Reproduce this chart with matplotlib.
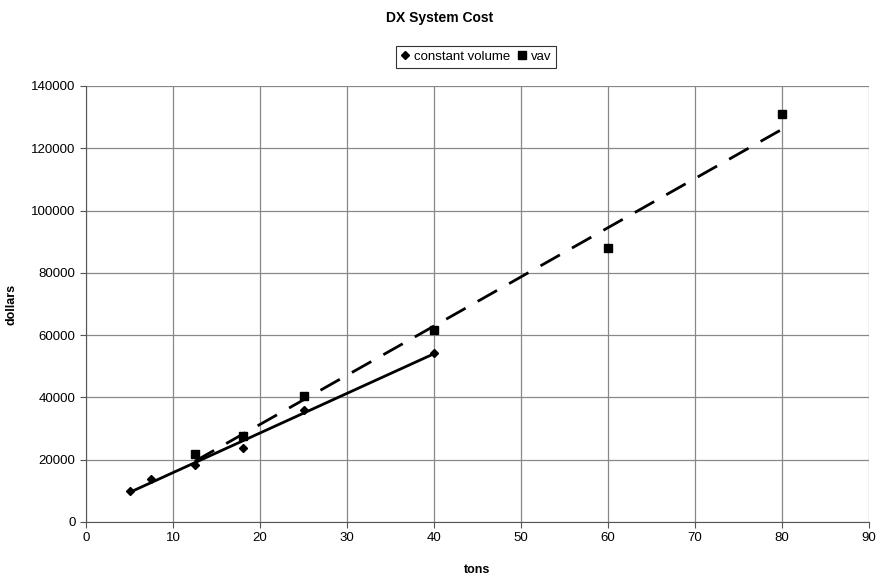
import numpy as np
import matplotlib
matplotlib.use("Agg")
import matplotlib.pyplot as plt

plt.rcParams['font.family'] = ['Liberation Sans', 'DejaVu Sans']

cv_tons = [5, 7.5, 12.5, 18, 25, 40]
cv_cost = [10000, 13700, 18300, 23900, 36000, 54300]
vav_tons = [12.5, 18, 25, 40, 60, 80]
vav_cost = [21700, 27600, 40400, 61700, 88000, 131000]

fig = plt.figure(figsize=(8.8, 5.78), dpi=100)
ax = fig.add_axes([86/880, 1 - 522/578, (869-86)/880, (522-86)/578])

ax.plot(cv_tons, cv_cost, linestyle='none', marker='D', markersize=4.5, color='black', label='constant volume')
ax.plot(vav_tons, vav_cost, linestyle='none', marker='s', markersize=6, color='black', label='vav')

p1 = np.polyfit(cv_tons, cv_cost, 1)
x1 = np.array([min(cv_tons), max(cv_tons)])
ax.plot(x1, np.polyval(p1, x1), color='black', lw=2)
p2 = np.polyfit(vav_tons, vav_cost, 1)
x2 = np.array([min(vav_tons), max(vav_tons)])
ax.plot(x2, np.polyval(p2, x2), color='black', lw=2, dashes=(8, 5))

ax.set_xlim(0, 90)
ax.set_ylim(0, 140000)
ax.set_xticks(range(0, 91, 10))
ax.set_yticks(range(0, 140001, 20000))
ax.grid(True, color='#888888', lw=0.9)
ax.set_axisbelow(True)
for s in ['top', 'right']:
    ax.spines[s].set_visible(False)
ax.spines['left'].set_color('#555555')
ax.spines['bottom'].set_color('#555555')
ax.tick_params(labelsize=9.5, length=4, color='#555555')
ax.set_xlabel('tons', fontsize=9, fontweight='bold', labelpad=14)
ax.set_ylabel('dollars', fontsize=9, fontweight='bold', labelpad=10)
fig.text(0.5, 1 - 18/578, 'DX System Cost', ha='center', va='center', fontsize=10, fontweight='bold')
leg = fig.legend(loc='center', bbox_to_anchor=(476/880, 1 - 57/578), ncol=2, fontsize=9.5,
                 frameon=True, fancybox=False, edgecolor='black', handlelength=0.7,
                 handletextpad=0.3, columnspacing=0.6, borderpad=0.35)
leg.get_frame().set_linewidth(0.8)

fig.savefig('out.png', dpi=100)
